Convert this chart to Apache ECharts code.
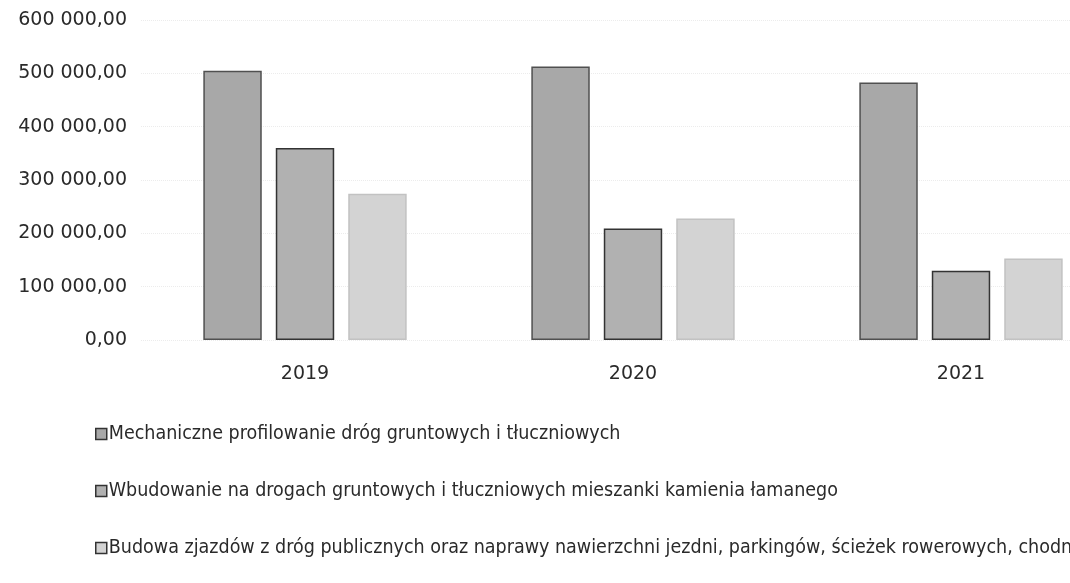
<!DOCTYPE html>
<html>
<head>
<meta charset="utf-8">
<script src="https://cdn.jsdelivr.net/npm/echarts@6/dist/echarts.min.js"></script>
<style>
html,body{margin:0;padding:0;background:#fff;}
#chart{width:1070px;height:583px;}
</style>
</head>
<body>
<div id="chart"></div>
<script>
const categories = ['2019', '2020', '2021'];
const seriesNames = [
  'Mechaniczne profilowanie dróg gruntowych i tłuczniowych',
  'Wbudowanie na drogach gruntowych i tłuczniowych mieszanki kamienia łamanego',
  'Budowa zjazdów z dróg publicznych oraz naprawy nawierzchni jezdni, parkingów, ścieżek rowerowych, chodników'
];
const profilowanie = [505000, 513000, 483000];
const kamien = [360000, 209000, 130000];
const zjazdy = [274000, 228000, 153000];
const yTicks = [0, 100000, 200000, 300000, 400000, 500000, 600000];

const fills = ['#a8a8a8', '#b1b1b1', '#d3d3d3'];
const borders = ['#505050', '#333333', '#c2c2c2'];

function fmt(v){
  const s = Math.round(v).toString().replace(/\B(?=(\d{3})+(?!\d))/g, ' ');
  return s + ',00';
}

const chart = echarts.init(document.getElementById('chart'));
const data = [profilowanie, kamien, zjazdy];
chart.setOption({
  animation: false,
  backgroundColor: '#ffffff',
  grid: { left: 141, width: 984, top: 20, bottom: 243, outerBoundsMode: 'none', containLabel: false },
  legend: {
    orient: 'vertical',
    left: 90,
    top: 419,
    itemWidth: 11,
    itemHeight: 11,
    itemGap: 37,
    icon: 'rect',
    textStyle: { fontFamily: 'Liberation Sans Narrow, DejaVu Sans Condensed, Liberation Sans', fontSize: 19.5, color: '#2a2a2a', padding: [0,0,0,-3] },
    data: seriesNames.map((n,i)=>({ name: n, itemStyle: { color: fills[i], borderColor: '#333', borderWidth: 1.5 } }))
  },
  xAxis: {
    type: 'category',
    data: categories,
    axisLine: { show: false },
    axisTick: { show: false },
    axisLabel: { margin: 25, fontFamily: 'DejaVu Sans', fontSize: 19, color: '#2a2a2a' }
  },
  yAxis: {
    type: 'value',
    min: 0,
    max: 600000,
    interval: 100000,
    axisLine: { show: false },
    axisTick: { show: false },
    splitLine: { show: true, lineStyle: { color: '#ececec', type: 'dotted' } },
    axisLabel: { margin: 14, fontFamily: 'DejaVu Sans', fontSize: 19, color: '#2a2a2a', formatter: fmt }
  },
  series: seriesNames.map((n,i)=>({
    name: n,
    type: 'bar',
    data: data[i],
    barGap: '24%',
    barCategoryGap: '38%',
    itemStyle: { color: fills[i], borderColor: borders[i], borderWidth: 1.5 }
  }))
});
</script>
</body>
</html>
